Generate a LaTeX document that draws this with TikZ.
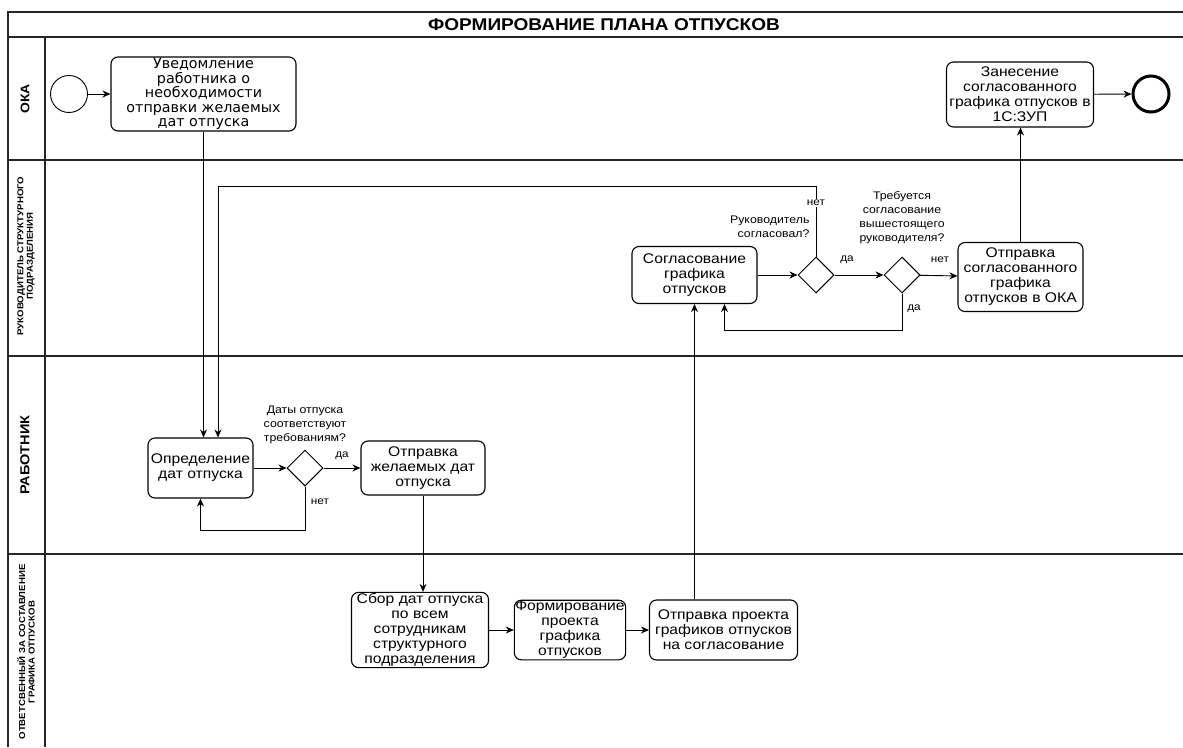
\documentclass[tikz,border=0pt]{standalone}
\usepackage{fontspec}
\setmainfont[FakeStretch=1.12]{Liberation Sans}
\newfontfamily\widefont{DejaVu Sans}
\usetikzlibrary{arrows.meta,shapes.geometric}

\begin{document}
\begin{tikzpicture}[x=1pt, y=-1pt,
  lane/.style={line width=1.3pt, black!85},
  lanename/.style={rotate=90, align=center, font=\bfseries\fontsize{8.6}{9.6}\selectfont},
  task/.style={draw, line width=1.1pt, rounded corners=7pt, align=center, inner sep=1pt,
    font=\fontsize{14}{15}\selectfont},
  gate/.style={draw, line width=1pt, diamond, aspect=1, minimum width=36pt, minimum height=36pt, inner sep=0pt},
  flow/.style={-{Stealth[length=8pt,width=7pt]}, line width=0.9pt},
  ask/.style={align=center, font=\fontsize{11}{14}\selectfont},
  lbl/.style={font=\fontsize{10.5}{12}\selectfont, inner sep=1pt}]

\useasboundingbox (0,0) rectangle (1183,747);

% Pool and lanes
\draw[lane] (8,747) -- (8,12) -- (1183,12);
\draw[lane] (8,37) -- (1183,37);
\draw[lane] (8,160) -- (1183,160);
\draw[lane] (8,356) -- (1183,356);
\draw[lane] (8,554) -- (1183,554);
\draw[lane] (45,37) -- (45,747);

% Title
\node[font=\bfseries\fontsize{17}{19}\selectfont] (title) at (604,25) {ФОРМИРОВАНИЕ ПЛАНА ОТПУСКОВ};

% Lane names
\node[lanename, font=\bfseries\fontsize{12.5}{15}\selectfont] (okaname) at (25,99) {ОКА};
\node[lanename] (headname) at (26,256) {РУКОВОДИТЕЛЬ СТРУКТУРНОГО\\ПОДРАЗДЕЛЕНИЯ};
\node[lanename, font=\bfseries\fontsize{13}{16}\selectfont] (workername) at (25,455) {РАБОТНИК};
\node[lanename] (respname) at (26,652) {ОТВЕТСВЕННЫЙ ЗА СОСТАВЛЕНИЕ\\ГРАФИКА ОТПУСКОВ};

% Events
\node[draw, circle, line width=0.9pt, minimum size=37pt, inner sep=0pt] (start) at (69,94) {};
\node[draw, circle, line width=3pt, minimum size=36pt, inner sep=0pt] (end) at (1151,94) {};

% Tasks
\node[task, minimum width=185pt, minimum height=74pt, font=\widefont\fontsize{14.3}{14.4}\selectfont] (notify) at (203.5,94)
  {Уведомление\\работника о\\необходимости\\отправки желаемых\\дат отпуска};
\node[task, minimum width=147pt, minimum height=65pt] (enter) at (1020,94.5)
  {Занесение\\согласованного\\графика отпусков в\\1С:ЗУП};
\node[task, minimum width=125pt, minimum height=57pt] (approve) at (694.5,275)
  {Согласование\\графика\\отпусков};
\node[task, minimum width=125pt, minimum height=69pt] (sendoka) at (1020.5,277)
  {Отправка\\согласованного\\графика\\отпусков в ОКА};
\node[task, minimum width=105pt, minimum height=60pt] (define) at (200.5,468)
  {Определение\\дат отпуска};
\node[task, minimum width=124pt, minimum height=54pt] (senddates) at (423,468)
  {Отправка\\желаемых дат\\отпуска};
\node[task, minimum width=137pt, minimum height=74pt] (collect) at (420,630)
  {Сбор дат отпуска\\по всем\\сотрудникам\\структурного\\подразделения};
\node[task, minimum width=111pt, minimum height=59pt] (draft) at (570,630)
  {Формирование\\проекта\\графика\\отпусков};
\node[task, minimum width=148pt, minimum height=60pt] (senddraft) at (723.5,630)
  {Отправка проекта\\графиков отпусков\\на согласование};

% Gateways
\node[gate] (okgate) at (816,275) {};
\node[gate] (highgate) at (902,275) {};
\node[gate] (datesgate) at (305,468) {};

% Questions
\node[ask, anchor=south] (datesq) at (305,447) {Даты отпуска\\соответствуют\\требованиям?};
\node[ask, anchor=south east, align=right] (okq) at (813,241) {Руководитель\\согласовал?};
\node[ask, anchor=south] (highq) at (902,247) {Требуется\\согласование\\вышестоящего\\руководителя?};

% Flows
\coordinate (backtop) at (218,186);
\coordinate (datesloop) at (305,530);
\coordinate (highloop) at (902,330);
\coordinate (draftup) at (approve.south |- senddraft.north);

\draw[flow] (start) -- (notify);
\draw[flow] (notify.south) -- (notify.south |- define.north);
\draw[flow] (okgate.north) |- (backtop) -- (backtop |- define.north);
\draw[flow] (define) -- (datesgate);
\draw[flow] (datesgate) -- (senddates);
\draw[flow] (datesgate.south) -- (datesloop) -| (define.south);
\draw[flow] (senddates.south) -- (senddates.south |- collect.north);
\draw[flow] (collect) -- (draft);
\draw[flow] (draft) -- (senddraft);
\draw[flow] (draftup) -- (approve.south);
\draw[flow] (approve) -- (okgate);
\draw[flow] (okgate) -- (highgate);
\draw[flow] (highgate) -- (sendoka);
\draw[flow] (highgate.south) -- (highloop) -| ([xshift=30pt]approve.south);
\draw[flow] (sendoka.north) -- (sendoka.north |- enter.south);
\draw[flow] (enter) -- (end);

% Flow labels
\node[lbl, fill=white] (no1) at (816,203) {нет};
\node[lbl] (yes1) at (847,260) {да};
\node[lbl] (no2) at (940,260) {нет};
\node[lbl] (yes2) at (914,309) {да};
\node[lbl] (yes3) at (342,456) {да};
\node[lbl] (no3) at (320,502) {нет};

\end{tikzpicture}
\end{document}
